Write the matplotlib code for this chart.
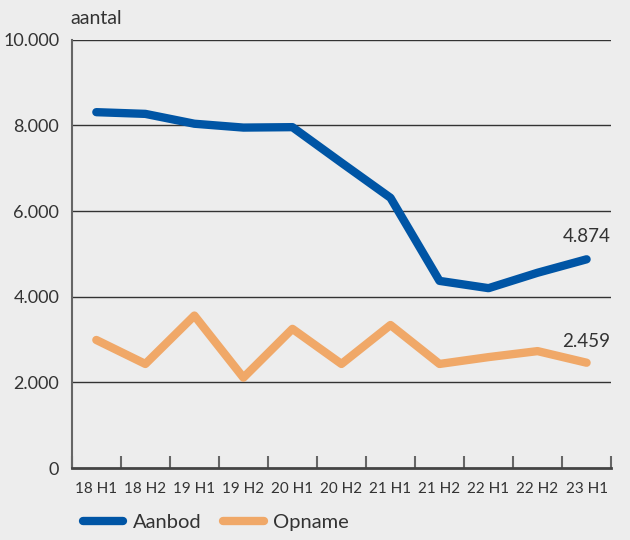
import matplotlib
matplotlib.use("Agg")
import matplotlib.pyplot as plt
from matplotlib.ticker import FuncFormatter, FixedLocator
import numpy as np

periods = ["18 H1", "18 H2", "19 H1", "19 H2", "20 H1", "20 H2",
           "21 H1", "21 H2", "22 H1", "22 H2", "23 H1"]
aanbod = [8310, 8270, 8040, 7950, 7960, 7130, 6310, 4370, 4200, 4560, 4874]
opname = [2990, 2430, 3560, 2110, 3250, 2430, 3340, 2430, 2590, 2730, 2459]

blue = "#0055A5"
orange = "#F0A868"
bg = "#EDEDED"
textColor = "#333333"

plt.rcParams["font.family"] = ["Lato", "DejaVu Sans"]

fig = plt.figure(figsize=(6.3, 5.4), dpi=100, facecolor=bg)
ax = fig.add_axes([0.114, 0.1333, 0.856, 0.793])
ax.set_facecolor(bg)

x = np.arange(len(periods))
ax.plot(x, aanbod, color=blue, lw=6, solid_capstyle="round", solid_joinstyle="round", zorder=3)
ax.plot(x, opname, color=orange, lw=6, solid_capstyle="round", solid_joinstyle="round", zorder=3)

ax.set_xlim(-0.5, len(periods) - 0.5)
ax.set_ylim(0, 10000)

fmt = lambda v, p: "{:,.0f}".format(v).replace(",", ".")
ax.yaxis.set_major_locator(FixedLocator([0, 2000, 4000, 6000, 8000, 10000]))
ax.yaxis.set_major_formatter(FuncFormatter(fmt))
ax.tick_params(axis="y", length=0, pad=9, labelsize=13, labelcolor=textColor)
for v in [2000, 4000, 6000, 8000, 10000]:
    ax.axhline(v, color="#333333", lw=1, zorder=1)

# category labels at centers, tick marks between
ax.set_xticks(x)
ax.set_xticklabels(periods)
ax.tick_params(axis="x", length=0, pad=10, labelsize=11, labelcolor=textColor)
ax.set_xticks(np.arange(-0.5, len(periods)), minor=True)
ax.tick_params(axis="x", which="minor", direction="in", length=9, width=1.5, color="#666666")

for s in ["top", "right"]:
    ax.spines[s].set_visible(False)
ax.spines["left"].set_color("#666666")
ax.spines["left"].set_linewidth(1.5)
ax.spines["bottom"].set_color("#444444")
ax.spines["bottom"].set_linewidth(2)

ax.annotate(fmt(aanbod[-1], None), (x[-1], aanbod[-1]), xytext=(0, 10),
            textcoords="offset points", ha="center", va="bottom", fontsize=13.5, color=textColor)
ax.annotate(fmt(opname[-1], None), (x[-1], opname[-1]), xytext=(0, 9),
            textcoords="offset points", ha="center", va="bottom", fontsize=13.5, color=textColor)

fig.text(0.111, 0.966, "aantal", fontsize=14, color=textColor, va="center", ha="left")

leg = fig.legend(["Aanbod", "Opname"], loc="center left", bbox_to_anchor=(0.132, 0.033),
                 ncol=2, frameon=False, fontsize=14.5, handlelength=2.0, columnspacing=1.1,
                 handletextpad=0.45, labelcolor=textColor, borderpad=0, borderaxespad=0)

fig.savefig("out.png", dpi=100, facecolor=bg)
